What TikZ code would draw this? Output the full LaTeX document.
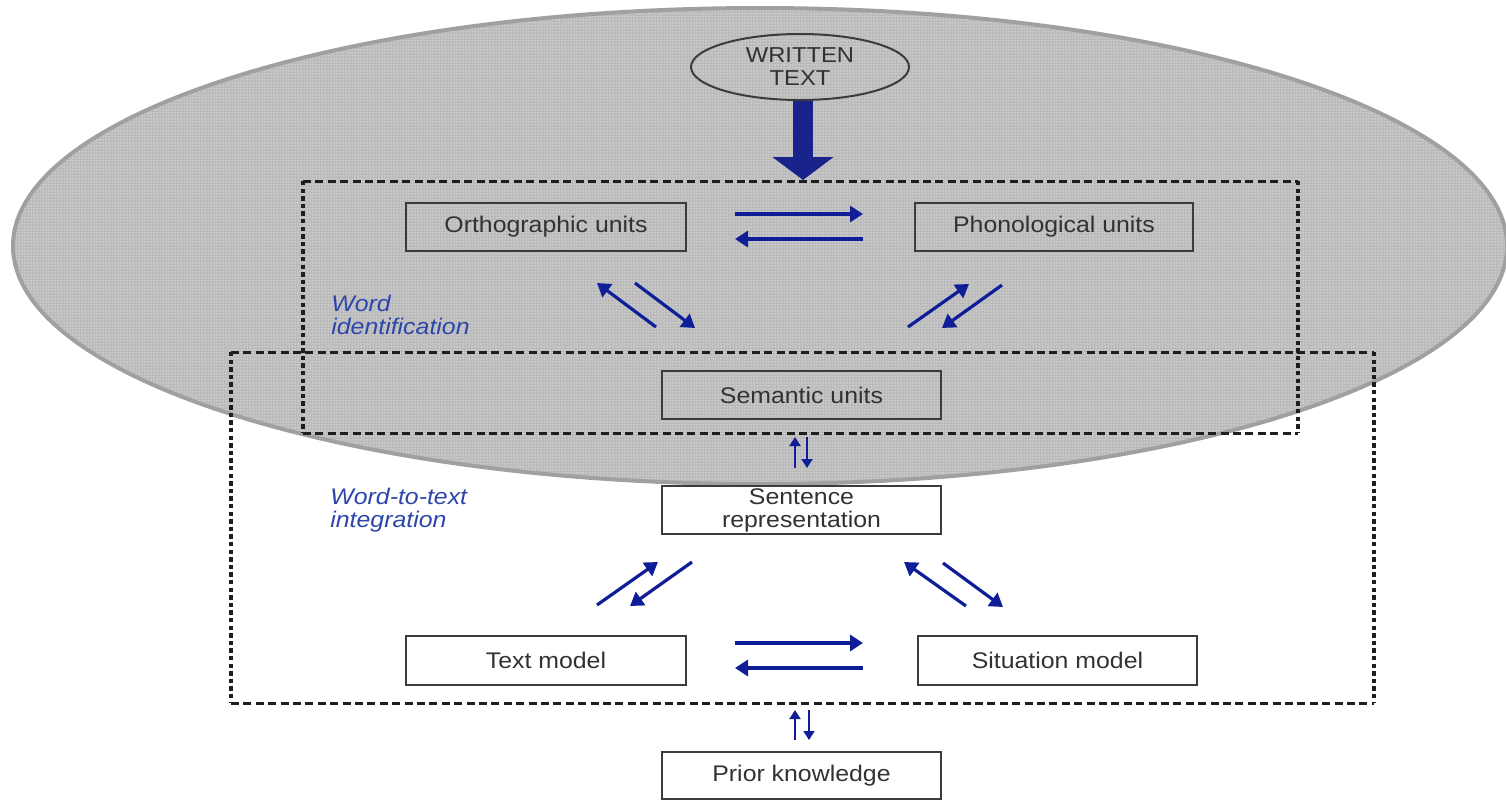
\documentclass[tikz,border=0pt]{standalone}
\usepackage{fontspec}
\setmainfont{Liberation Sans}[FakeStretch=1.1]
\usetikzlibrary{arrows.meta,shapes.geometric,patterns}
\definecolor{ellfill}{RGB}{186,186,186}
\definecolor{elledge}{RGB}{160,160,160}
\definecolor{arrblue}{RGB}{15,30,150}
\definecolor{bigblue}{RGB}{25,35,140}
\definecolor{labblue}{RGB}{45,70,170}
\definecolor{boxgray}{RGB}{60,60,60}
\definecolor{txtgray}{RGB}{50,50,50}
\definecolor{dashgray}{RGB}{30,30,30}
\pgfdeclarepatternformonly{finedots}{\pgfpointorigin}{\pgfpoint{1.5pt}{1.5pt}}{\pgfpoint{1.5pt}{1.5pt}}{%
  \pgfpathrectangle{\pgfpoint{0.35pt}{0.35pt}}{\pgfpoint{0.8pt}{0.8pt}}\pgfusepath{fill}}
\begin{document}
\begin{tikzpicture}[x=0.5pt,y=-0.5pt,
  box/.style={draw=boxgray, line width=1.1pt, inner sep=0pt, text=txtgray,
    font=\fontsize{11.3}{11.5}\selectfont, align=center},
  wbox/.style={box, fill=white},
  arr/.style={draw=arrblue, line width=1.6pt, -{Triangle[length=6.5pt,width=8pt]}},
  thinarr/.style={draw=arrblue, line width=1pt, -{Triangle[length=4.5pt,width=5.5pt]}},
  bigarr/.style={draw=bigblue, line width=10pt, -{Triangle[length=11.5pt,width=30pt]}},
  hdash/.style={draw=dashgray, line width=1.5pt, dash pattern=on 4pt off 2.2pt},
  vdash/.style={draw=dashgray, line width=1.6pt, dash pattern=on 2.2pt off 1.6pt},
  lab/.style={text=labblue, font=\fontsize{11.3}{11.5}\selectfont\itshape,
    align=left, inner sep=0pt, anchor=west},
]
\useasboundingbox (0,0) rectangle (1506,800);

% shaded overlay ellipse
\fill[ellfill] (760,246) ellipse [x radius=373.5pt, y radius=119pt];
\fill[pattern=finedots, pattern color=white!85!gray] (760,246) ellipse [x radius=373.5pt, y radius=119pt];
\draw[elledge, line width=2pt] (760,246) ellipse [x radius=373.5pt, y radius=119pt];

% dashed group frames
\draw[hdash] (303,181) -- (1298,181);
\draw[hdash] (303,433) -- (1298,433);
\draw[vdash] (303,181) -- (303,433);
\draw[vdash] (1298,181) -- (1298,433);
\draw[hdash] (231,352) -- (1374,352);
\draw[hdash] (231,703) -- (1374,703);
\draw[vdash] (231,352) -- (231,703);
\draw[vdash] (1374,352) -- (1374,703);

% nodes
\node[draw=boxgray, line width=1pt, ellipse, minimum width=109pt, minimum height=33pt,
  inner sep=0pt, text=txtgray, font=\fontsize{10.8}{11.5}\selectfont, align=center]
  (wt) at (800,67) {WRITTEN\\TEXT};
\node[box, minimum width=140pt, minimum height=24pt] (ortho) at (546,227) {Orthographic units};
\node[box, minimum width=139pt, minimum height=24pt] (phono) at (1054,227) {Phonological units};
\node[box, minimum width=139.5pt, minimum height=24pt] (sem) at (801.5,395) {Semantic units};
\node[wbox, minimum width=139.5pt, minimum height=24pt] (sent) at (801.5,510) {Sentence\\representation};
\node[wbox, minimum width=140pt, minimum height=24.5pt] (textm) at (546,660.5) {Text model};
\node[wbox, minimum width=139.5pt, minimum height=24.5pt] (sit) at (1057.5,660.5) {Situation model};
\node[wbox, minimum width=139.5pt, minimum height=23.5pt] (prior) at (801.5,775.5) {Prior knowledge};

\node[lab] (wid) at (331,315) {Word\\identification};
\node[lab] (wtt) at (330,510) {Word-to-text\\integration};

% big input arrow
\coordinate (wtip) at (803,180);
\draw[bigarr] (wt.south -| wtip) -- (wtip);

% arrow end points
\coordinate (oa1) at (735,214); \coordinate (oa2) at (863,214);
\coordinate (pa1) at (863,239); \coordinate (pa2) at (735,239);
\coordinate (os1) at (656,327); \coordinate (os2) at (597,283);
\coordinate (so1) at (635,283); \coordinate (so2) at (695,328);
\coordinate (sp1) at (908,327); \coordinate (sp2) at (969,284);
\coordinate (ps1) at (1002,285); \coordinate (ps2) at (942,328);
\coordinate (ss1) at (795,468); \coordinate (ss2) at (795,437);
\coordinate (st1) at (807,437); \coordinate (st2) at (807,468);
\coordinate (ts1) at (597,605); \coordinate (ts2) at (658,562);
\coordinate (tt1) at (692,562); \coordinate (tt2) at (630,606);
\coordinate (ms1) at (966,606); \coordinate (ms2) at (904,562);
\coordinate (sm1) at (943,563); \coordinate (sm2) at (1003,607);
\coordinate (tm1) at (735,643); \coordinate (tm2) at (863,643);
\coordinate (mt1) at (863,668); \coordinate (mt2) at (735,668);
\coordinate (pk1) at (795,740); \coordinate (pk2) at (795,710);
\coordinate (kp1) at (809,710); \coordinate (kp2) at (809,740);

\draw[arr] (oa1) -- (oa2);
\draw[arr] (pa1) -- (pa2);
\draw[arr] (os1) -- (os2);
\draw[arr] (so1) -- (so2);
\draw[arr] (sp1) -- (sp2);
\draw[arr] (ps1) -- (ps2);
\draw[thinarr] (ss1) -- (ss2);
\draw[thinarr] (st1) -- (st2);
\draw[arr] (ts1) -- (ts2);
\draw[arr] (tt1) -- (tt2);
\draw[arr] (ms1) -- (ms2);
\draw[arr] (sm1) -- (sm2);
\draw[arr] (tm1) -- (tm2);
\draw[arr] (mt1) -- (mt2);
\draw[thinarr] (pk1) -- (pk2);
\draw[thinarr] (kp1) -- (kp2);
\end{tikzpicture}
\end{document}
